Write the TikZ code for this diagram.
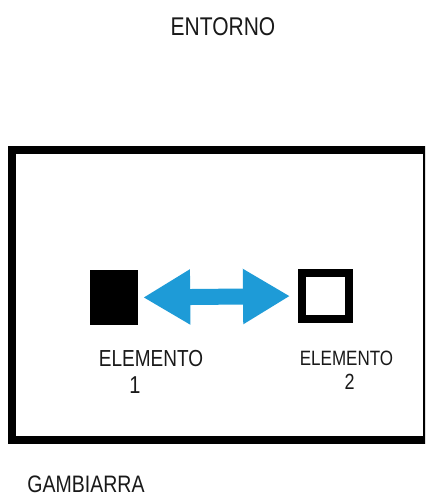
\documentclass[tikz,border=0pt]{standalone}
\usepackage{fontspec}
\setmainfont{Liberation Sans}
\usetikzlibrary{arrows.meta}
\definecolor{arrowblue}{RGB}{30,155,215}
\tikzset{
  lbl/.style={inner sep=0pt, anchor=center, text=black!90},
  frame/.style={draw=black, line width=8pt},
  arrowtip/.style={Triangle[width=52pt,length=47pt]}
}
\newcommand{\tall}[1]{\scalebox{1}[1.22]{#1}}
\begin{document}
\begin{tikzpicture}[x=1pt,y=-1pt]
\useasboundingbox (0,0) rectangle (425,497);
\clip (0,0) rectangle (425,497);
\fill[white] (0,0) rectangle (425,497);
% environment label
\node[lbl, font=\fontsize{21}{24}\selectfont] (entorno) at (223,27) {\tall{ENTORNO}};
% frame
\node[frame, minimum width=415pt, minimum height=289.5pt, inner sep=0pt] (box) at (219.5,295.25) {};
% elements
\node[fill=black, minimum width=48pt, minimum height=55pt, inner sep=0pt] (e1) at (114,297.5) {};
\node[draw=black, line width=8pt, minimum width=47pt, minimum height=46pt, inner sep=0pt] (e2) at (325.5,296) {};
% connector
\draw[arrowblue, line width=16pt, {Triangle[width=52pt,length=47pt]}-{Triangle[width=52pt,length=47pt]}, shorten <=5pt, shorten >=8pt] (e1.east) -- (e2.west);
% labels
\node[lbl, font=\fontsize{19}{22}\selectfont] (l1) at (151,358.5) {\tall{ELEMENTO}};
\node[lbl, font=\fontsize{20}{22}\selectfont] (n1) at (135,385) {\tall{1}};
\node[lbl, font=\fontsize{17}{20}\selectfont] (l2) at (346.5,358.5) {\tall{ELEMENTO}};
\node[lbl, font=\fontsize{18}{20}\selectfont] (n2) at (349.5,381.5) {\tall{2}};
\node[lbl, font=\fontsize{19.5}{22}\selectfont] (gamb) at (86,484) {\tall{GAMBIARRA}};
\end{tikzpicture}
\end{document}
